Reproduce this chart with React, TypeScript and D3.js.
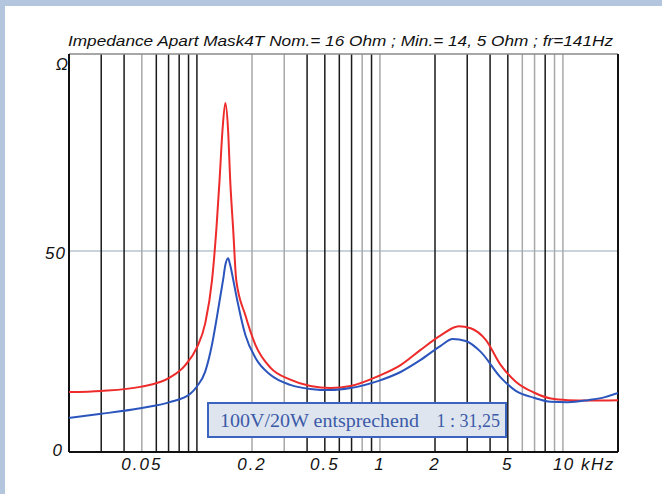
import React from 'react';
import * as d3 from 'd3';

const TITLE = 'Impedance Apart Mask4T Nom.= 16 Ohm ; Min.= 14, 5 Ohm ; fr=141Hz';
const X_TICKS = [50, 200, 500, 1000, 2000, 5000];
const X_TICK_LABELS = ['0.05', '0.2', '0.5', '1', '2', '5'];
const X_LAST_TICK = 10000;
const X_LAST_LABEL = '10 kHz';
const Y_TICKS = [0, 50];
const Y_TICK_LABELS = ['0', '50'];
const Y_UNIT = 'Ω';
const GRID_FREQS = [30, 40, 50, 60, 70, 80, 90, 100, 200, 300, 400, 500, 600, 700, 800, 900, 1000,
  2000, 3000, 4000, 5000, 6000, 7000, 8000, 9000, 10000];
const GRID_LIGHT = [50, 200, 300, 800, 1000, 6000, 7000, 9000, 10000];
const LEGEND_LEFT = '100V/20W entsprechend';
const LEGEND_RIGHT = '1 : 31,25';

const RED_FREQ = [20, 30, 49, 71, 86, 100, 111, 121, 128, 133, 138, 143, 148, 152, 158, 164, 184, 209, 252, 324,
  417, 537, 691, 983, 1297, 1669, 2148, 2696, 3134, 3788, 4577, 5528, 6936, 8596, 10648, 13700, 20000];
const RED_Z = [14.9, 15.2, 16.2, 18.5, 21.5, 26, 32, 42.8, 56, 67.7, 80.1, 86.8, 80.1, 67.7, 55, 42.8, 34, 26.6, 21, 18,
  16.4, 15.9, 16.4, 18.9, 21.6, 25.4, 29, 31.3, 30.8, 27.9, 21.6, 17.5, 14.8, 13.3, 12.9, 12.8, 12.9];

const BLUE_FREQ = [20, 30, 49, 71, 92, 100, 111, 121, 128, 134, 139, 143, 148, 152, 158, 166, 184, 209, 252, 324, 417,
  537, 691, 983, 1297, 1669, 2148, 2498, 2944, 3556, 4577, 5528, 6936, 8596, 10648, 13700, 16140, 20000];
const BLUE_Z = [8.5, 9.5, 10.9, 12.4, 14.5, 16.3, 20, 26.8, 33, 38.5, 42.8, 46.5, 48.2, 46.5, 42.8, 37.8, 29.1, 23.4, 19.2, 16.7, 15.7,
  15.4, 15.9, 17.7, 19.9, 22.9, 26.4, 28.1, 27.6, 24.9, 18.5, 15.2, 13.5, 12.5, 12.4, 12.9, 13.4, 14.7];

const W = 662;
const H = 494;
const L = 69, R = 618, T = 54, B = 452;

export default function App() {
  const x = d3.scaleLog().domain([20, 20000]).range([L, R]);
  const y = d3.scaleLinear().domain([0, 99]).range([B, T]);
  const line = d3.line<[number, number]>()
    .x(d => x(d[0]))
    .y(d => y(d[1]))
    .curve(d3.curveMonotoneX);
  const red = line(RED_FREQ.map((f, i) => [f, RED_Z[i]]));
  const blue = line(BLUE_FREQ.map((f, i) => [f, BLUE_Z[i]]));
  const sans = '"Liberation Sans", Arial, sans-serif';
  return (
    <svg width={W} height={H} style={{ position: 'absolute', left: 0, top: 0, display: 'block' }}>
      <rect x={0} y={0} width={W} height={H} fill="#ffffff" />
      <rect x={0} y={0} width={5} height={H} fill="#b4c6de" />
      <rect x={0} y={0} width={W} height={6} fill="#b4c6de" />
      <defs>
        <clipPath id="plot">
          <rect x={L} y={T} width={R - L} height={B - T} />
        </clipPath>
      </defs>
      <text x={68} y={46} fontFamily='"Liberation Sans Narrow", "Liberation Sans", Arial' fontStyle="italic"
        fontSize={15} textLength={545} lengthAdjust="spacingAndGlyphs" fill="#111">{TITLE}</text>
      <line x1={L} x2={R} y1={y(50)} y2={y(50)} stroke="#b9c3cf" strokeWidth={1.5} />
      {GRID_FREQS.map(f => (
        <line key={f} x1={x(f)} x2={x(f)} y1={T} y2={B}
          stroke={GRID_LIGHT.includes(f) ? '#a8a8a8' : '#1a1a1a'} strokeWidth={1.5} />
      ))}
      <line x1={L} x2={R} y1={T} y2={T} stroke="#8a8a8a" strokeWidth={1.5} />
      <line x1={L} x2={L} y1={T} y2={B} stroke="#111" strokeWidth={2} />
      <line x1={R} x2={R} y1={T} y2={B} stroke="#111" strokeWidth={2} />
      <line x1={L} x2={R} y1={B} y2={B} stroke="#111" strokeWidth={2} />
      <g clipPath="url(#plot)">
        <path d={red || ''} fill="none" stroke="#ee2b2b" strokeWidth={2} />
        <path d={blue || ''} fill="none" stroke="#2b55bd" strokeWidth={2} />
      </g>
      <rect x={208} y={403} width={298} height={34} fill="#dfe5ee" stroke="#3a64c0" strokeWidth={2} />
      <text x={220} y={427} fontFamily='"Liberation Serif", "Times New Roman", serif' fontSize={18}
        fill="#3a5aa8" textLength={199} lengthAdjust="spacingAndGlyphs">{LEGEND_LEFT}</text>
      <text x={500} y={427} textAnchor="end" fontFamily='"Liberation Serif", "Times New Roman", serif' fontSize={18}
        fill="#3a5aa8">{LEGEND_RIGHT}</text>
      {X_TICKS.map((f, i) => (
        <text key={f} x={x(f)} y={470} textAnchor="middle" fontFamily={sans} fontStyle="italic"
          fontSize={17} letterSpacing={2} fill="#111">{X_TICK_LABELS[i]}</text>
      ))}
      <text x={x(X_LAST_TICK) - 10} y={470} fontFamily={sans} fontStyle="italic" fontSize={17}
        letterSpacing={1.5} fill="#111">{X_LAST_LABEL}</text>
      {Y_TICKS.map((v, i) => (
        <text key={v} x={v === 0 ? 63 : 66} y={y(v) + (v === 0 ? 4 : 8)} textAnchor="end" fontFamily={sans}
          fontStyle="italic" fontSize={17} letterSpacing={1} fill="#111">{Y_TICK_LABELS[i]}</text>
      ))}
      <text x={68} y={70} textAnchor="end" fontFamily={sans} fontStyle="italic" fontSize={16} fill="#111">{Y_UNIT}</text>
    </svg>
  );
}
